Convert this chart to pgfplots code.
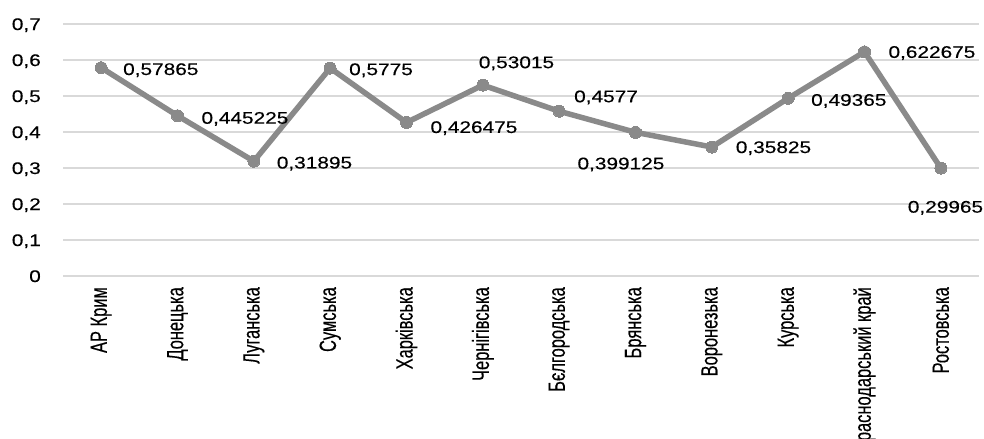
\documentclass[border=0pt]{standalone}
\usepackage{pgfplots}
\pgfplotsset{compat=1.18}
\usepackage{pgfplotstable}
\usepackage{fontspec}
\setmainfont{Liberation Sans}
\newfontfamily\wide[FakeStretch=1.24,FakeBold=0.3]{Liberation Sans}
\newfontfamily\narrow[FakeStretch=0.70,FakeBold=0.3]{Liberation Sans}
\newcommand\widefont{\wide\fontsize{16.8bp}{20bp}\selectfont}
\newcommand\narrowfont{\narrow\fontsize{23.5bp}{26bp}\selectfont}
\definecolor{linegray}{HTML}{8A8A8A}
\definecolor{gridgray}{HTML}{D9D9D9}

\pgfplotstableread{
x y lab dx dy
0 0.57865 0,57865 22 -1.3
1 0.445225 0,445225 24 -2
2 0.31895 0,31895 23 -1.3
3 0.5775 0,5775 19 -1
4 0.426475 0,426475 24 -4.5
5 0.53015 0,53015 -4 23
6 0.4577 0,4577 15 15
7 0.399125 0,399125 -58 -31
8 0.35825 0,35825 24 0
9 0.49365 0,49365 23 -1.5
10 0.622675 0,622675 24 0
11 0.29965 0,29965 -33 -38.5
}\datatable

\begin{document}
\begin{tikzpicture}
\begin{axis}[
  scale only axis,
  width=916bp, height=252bp,
  xmin=-0.5, xmax=11.5,
  ymin=0, ymax=0.7,
  clip=false,
  axis line style={draw=none},
  major tick length=0pt,
  ymajorgrids,
  grid style={gridgray, line width=1.3bp},
  ytick={0,0.1,0.2,0.3,0.4,0.5,0.6,0.7},
  yticklabel={\widefont\pgfmathprintnumber[use comma,fixed,precision=1,assume math mode=true]{\tick}},
  yticklabel style={anchor=east, inner sep=0pt, text height=12bp, text depth=0pt},
  yticklabel shift=22bp,
  xtick={0,1,2,3,4,5,6,7,8,9,10,11},
  xticklabels={АР Крим,Донецька,Луганська,Сумська,Харківська,Чернігівська,Бєлгородська,Брянська,Воронезька,Курська,Краснодарський край,Ростовська},
  xticklabel style={font=\narrowfont, rotate=90, anchor=east, inner sep=0pt},
  xticklabel shift=11bp,
  point meta=explicit symbolic,
  nodes near coords={\widefont\pgfplotspointmeta},
  visualization depends on={\thisrow{dx}\as\mydx},
  visualization depends on={\thisrow{dy}\as\mydy},
  every node near coord/.append style={anchor=west, inner sep=0pt, text height=12bp, text depth=0pt, xshift=\mydx bp, yshift=\mydy bp, text=black},
]
\addplot[linegray, line width=5.5bp, mark=*, mark size=6bp, mark options={fill=linegray, draw=linegray, line width=0pt}]
  table[x=x, y=y, meta=lab] {\datatable};
\end{axis}
\pgfresetboundingbox
\path[use as bounding box] (current axis.south west) ++(-63bp,-163bp) rectangle ++(984bp,439bp);
\end{tikzpicture}
\end{document}
